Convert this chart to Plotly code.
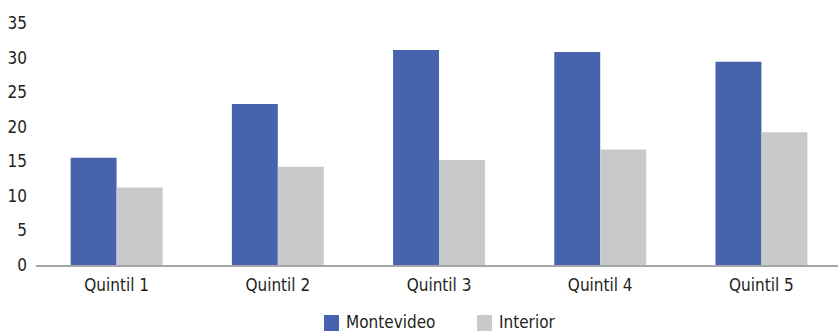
import plotly.graph_objects as go

categories = ["Quintil 1", "Quintil 2", "Quintil 3", "Quintil 4", "Quintil 5"]
montevideo = [15.5, 23.3, 31.1, 30.8, 29.4]
interior = [11.2, 14.2, 15.2, 16.7, 19.2]
y_ticks = [0, 5, 10, 15, 20, 25, 30, 35]
series_names = ["Montevideo", "Interior"]

BLUE = "#4763AD"
GRAY = "#C8C9CB"
FONT = "DejaVu Sans Condensed, Liberation Sans Narrow, sans-serif"
TEXT = "#231F20"

fig = go.Figure()
fig.add_trace(go.Bar(x=categories, y=montevideo, name=series_names[0],
                     marker=dict(color=BLUE, line=dict(width=0))))
fig.add_trace(go.Bar(x=categories, y=interior, name=series_names[1],
                     marker=dict(color=GRAY, line=dict(width=0))))

# legend drawn below the axis: square swatch followed by the series name
legend_items = [(series_names[0], BLUE, 0.3591), (series_names[1], GRAY, 0.5499)]
swatch_w = 0.0187
for name, color, x0 in legend_items:
    fig.add_shape(type="rect", xref="paper", yref="paper",
                  x0=x0, x1=x0 + swatch_w, y0=-0.2727, y1=-0.2066,
                  fillcolor=color, line=dict(width=0))
    fig.add_annotation(xref="paper", yref="paper", x=x0 + swatch_w + 0.006, y=-0.2375,
                       xanchor="left", yanchor="middle", text=name, showarrow=False,
                       font=dict(family=FONT, size=17, color=TEXT))

fig.update_layout(
    width=838, height=333,
    margin=dict(l=36, r=0, t=23, b=68),
    paper_bgcolor="white", plot_bgcolor="white",
    barmode="group", bargap=0.43, bargroupgap=0,
    font=dict(family=FONT, size=17, color=TEXT),
    showlegend=False,
)
fig.update_xaxes(range=[-0.5, 4.475], showline=True, linecolor="#A6A6A6", linewidth=2,
                 ticks="", showgrid=False, zeroline=False, ticklabelstandoff=4)
fig.update_yaxes(range=[0, 35], tickvals=y_ticks, showgrid=False, zeroline=False,
                 showline=False, ticks="", ticklabelstandoff=8)

fig.write_html("out.html")
